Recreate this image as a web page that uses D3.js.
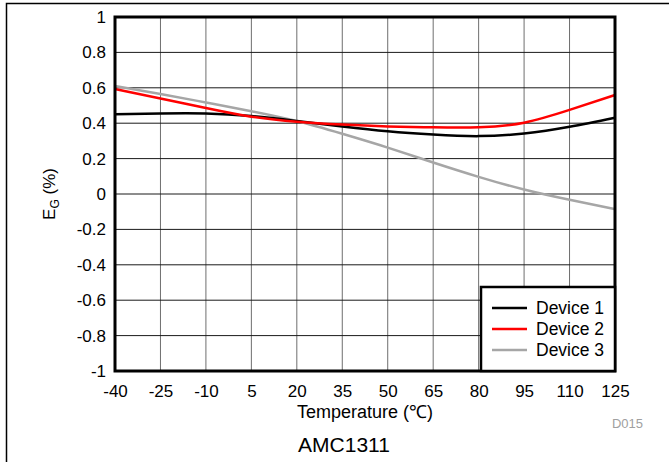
<!DOCTYPE html>
<html lang="en">
<head>
<meta charset="utf-8">
<title>AMC1311 gain error</title>
<script src="https://d3js.org/d3.v7.min.js"></script>
<style>
body { margin: 0; background: white; }
text { font-family: "Liberation Sans", Arial, sans-serif; fill: #000; }
</style>
</head>
<body>
<script>
// temperature points (deg C)
var temps = [-40, -25, -10, 5, 20, 35, 50, 65, 80, 95, 110, 125];
// gain error in %
var device1 = [0.45, 0.455, 0.455, 0.44, 0.412, 0.382, 0.355, 0.336, 0.327, 0.342, 0.38, 0.431];
var device2 = [0.593, 0.54, 0.486, 0.437, 0.408, 0.392, 0.382, 0.377, 0.377, 0.403, 0.475, 0.559];
var device3 = [0.61, 0.565, 0.517, 0.468, 0.412, 0.34, 0.262, 0.178, 0.097, 0.025, -0.033, -0.085];
var seriesNames = ["Device 1", "Device 2", "Device 3"];
var seriesColors = ["#000000", "#ff0000", "#a6a6a6"];
var xTicks = [-40, -25, -10, 5, 20, 35, 50, 65, 80, 95, 110, 125];
var yTicks = [-1, -0.8, -0.6, -0.4, -0.2, 0, 0.2, 0.4, 0.6, 0.8, 1];

var W = 669, H = 462;
var mLeft = 115, mRight = 615, mTop = 17, mBottom = 371;

var svg = d3.select("body").append("svg")
  .attr("width", W)
  .attr("height", H);

// outer frame (runs off the page on right/bottom)
svg.append("rect")
  .attr("x", 6.5).attr("y", 3.5)
  .attr("width", 700).attr("height", 500)
  .attr("fill", "none").attr("stroke", "#000").attr("stroke-width", 1.5);

var x = d3.scaleLinear().domain([-40, 125]).range([mLeft, mRight]);
var y = d3.scaleLinear().domain([-1, 1]).range([mBottom, mTop]);

// grid
svg.append("g").selectAll("line").data(xTicks).enter().append("line")
  .attr("x1", function(d) { return x(d); }).attr("x2", function(d) { return x(d); })
  .attr("y1", mTop).attr("y2", mBottom)
  .attr("stroke", "#6e6e6e").attr("stroke-width", 1);
svg.append("g").selectAll("line").data(yTicks).enter().append("line")
  .attr("x1", mLeft).attr("x2", mRight)
  .attr("y1", function(d) { return y(d); }).attr("y2", function(d) { return y(d); })
  .attr("stroke", "#1a1a1a").attr("stroke-width", 1);

// axes (labels only)
var fmt = function(d) { return d === 0 ? "0" : String(d); };
var xAxis = svg.append("g")
  .attr("transform", "translate(0," + mBottom + ")")
  .call(d3.axisBottom(x).tickValues(xTicks).tickSize(0).tickPadding(14).tickFormat(fmt));
var yAxis = svg.append("g")
  .attr("transform", "translate(" + mLeft + ",0)")
  .call(d3.axisLeft(y).tickValues(yTicks).tickSize(0).tickPadding(9).tickFormat(fmt));
[xAxis, yAxis].forEach(function(a) {
  a.select(".domain").remove();
  a.selectAll("text").attr("font-size", 17).attr("fill", "#000")
    .attr("font-family", "Liberation Sans, Arial, sans-serif");
});

// lines
var line = d3.line()
  .x(function(d) { return x(d[0]); })
  .y(function(d) { return y(d[1]); })
  .curve(d3.curveNatural);
var allSeries = [device1, device2, device3];
var order = [2, 0, 1];
order.forEach(function(i) {
  svg.append("path")
    .datum(temps.map(function(t, j) { return [t, allSeries[i][j]]; }))
    .attr("d", line)
    .attr("fill", "none")
    .attr("stroke", seriesColors[i])
    .attr("stroke-width", 2.5);
});

// plot frame
svg.append("rect")
  .attr("x", mLeft).attr("y", mTop)
  .attr("width", mRight - mLeft).attr("height", mBottom - mTop)
  .attr("fill", "none").attr("stroke", "#000").attr("stroke-width", 3);

// legend
var lg = svg.append("g");
lg.append("rect")
  .attr("x", 481).attr("y", 287)
  .attr("width", mRight - 481).attr("height", mBottom - 287)
  .attr("fill", "white").attr("stroke", "#000").attr("stroke-width", 2.5);
seriesNames.forEach(function(name, i) {
  var yy = 308 + i * 21;
  lg.append("line")
    .attr("x1", 492).attr("x2", 527).attr("y1", yy).attr("y2", yy)
    .attr("stroke", seriesColors[i]).attr("stroke-width", 2.5);
  lg.append("text")
    .attr("x", 536).attr("y", yy + 6)
    .attr("font-size", 17.5)
    .text(name);
});

// axis titles
svg.append("text")
  .attr("x", (mLeft + mRight) / 2).attr("y", 418)
  .attr("text-anchor", "middle").attr("font-size", 18)
  .text("Temperature (℃)");

var yl = svg.append("text")
  .attr("transform", "translate(55," + ((mTop + mBottom) / 2) + ") rotate(-90)")
  .attr("text-anchor", "middle").attr("font-size", 17);
yl.append("tspan").text("E");
yl.append("tspan").attr("font-size", 12).attr("dy", 4).text("G");
yl.append("tspan").attr("dy", -4).text(" (%)");

svg.append("text")
  .attr("x", 643).attr("y", 428)
  .attr("text-anchor", "end").attr("font-size", 13).style("fill", "#a0a0a0")
  .text("D015");

svg.append("text")
  .attr("x", 344).attr("y", 452)
  .attr("text-anchor", "middle").attr("font-size", 21)
  .text("AMC1311");
</script>
</body>
</html>
